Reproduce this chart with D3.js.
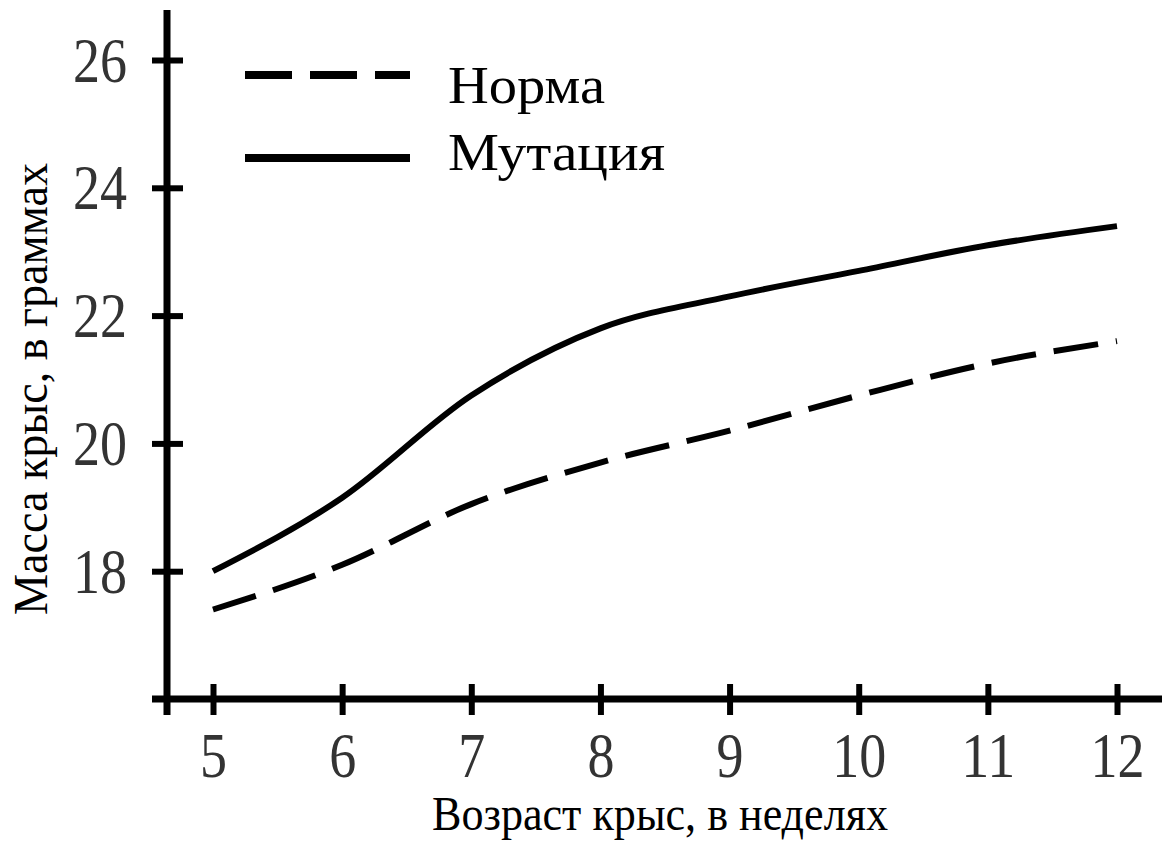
<!DOCTYPE html>
<html>
<head>
<meta charset="utf-8">
<script src="https://cdn.jsdelivr.net/npm/d3@7"></script>
<style>
  html, body { margin: 0; padding: 0; background: #fff; }
  svg { display: block; }
  text { font-family: "Liberation Serif", "Times New Roman", serif; }
</style>
</head>
<body>
<script>
// ---- data ----
const weeks = [5, 6, 7, 8, 9, 10, 11, 12];
const normaValues = [17.4, 18.1, 19.05, 19.7, 20.2, 20.75, 21.25, 21.6];
const mutationValues = [18.0, 19.15, 20.75, 21.8, 22.3, 22.7, 23.1, 23.4];
const yTickValues = [18, 20, 22, 24, 26];
const xTickValues = [5, 6, 7, 8, 9, 10, 11, 12];
const seriesNames = ["Норма", "Мутация"];
const xTitle = "Возраст крыс, в неделях";
const yTitle = "Масса крыс, в граммах";

const W = 1162, H = 843;
const svg = d3.select("body").append("svg").attr("width", W).attr("height", H);

const x = d3.scaleLinear().domain([5, 12]).range([213, 1117]);
const y = d3.scaleLinear().domain([16, 26]).range([699, 60]);

// axis lines
const axisW = 7;
svg.append("line").attr("x1", 167).attr("x2", 167).attr("y1", 10).attr("y2", y(16) + 16)
  .attr("stroke", "#000").attr("stroke-width", axisW);
svg.append("line").attr("x1", 152).attr("x2", W).attr("y1", y(16)).attr("y2", y(16))
  .attr("stroke", "#000").attr("stroke-width", axisW);

const digitW = 27;

// y axis ticks
const yAxis = d3.axisLeft(y).tickValues(yTickValues).tickSize(15).tickPadding(40).tickFormat(d3.format("d"));
const gy = svg.append("g").attr("transform", "translate(167,0)").call(yAxis);
gy.select(".domain").remove();
gy.selectAll(".tick line").attr("x1", 16).attr("x2", -15).attr("stroke", "#000").attr("stroke-width", 6);
gy.selectAll(".tick text").attr("font-size", 64).attr("fill", "#333")
  .attr("x", -40).attr("dy", "0.33em")
  .attr("textLength", d => String(d).length * digitW).attr("lengthAdjust", "spacingAndGlyphs");

// x axis ticks
const xAxis = d3.axisBottom(x).tickValues(xTickValues).tickSize(16).tickPadding(28).tickFormat(d3.format("d"));
const gx = svg.append("g").attr("transform", `translate(0,${y(16)})`).call(xAxis);
gx.select(".domain").remove();
gx.selectAll(".tick line").attr("y1", -15).attr("y2", 16).attr("stroke", "#000").attr("stroke-width", 6);
gx.selectAll(".tick text").attr("font-size", 64).attr("fill", "#333")
  .attr("y", 78).attr("dy", 0)
  .attr("textLength", d => String(d).length * digitW).attr("lengthAdjust", "spacingAndGlyphs");

// lines
const line = d3.line().x((d, i) => x(weeks[i])).y(d => y(d)).curve(d3.curveMonotoneX);
svg.append("path").datum(normaValues).attr("d", line)
  .attr("fill", "none").attr("stroke", "#000").attr("stroke-width", 6)
  .attr("stroke-dasharray", "45,18");
svg.append("path").datum(mutationValues).attr("d", line)
  .attr("fill", "none").attr("stroke", "#000").attr("stroke-width", 6);

// legend
const leg = svg.append("g");
leg.append("line").attr("x1", 245).attr("x2", 410).attr("y1", 75).attr("y2", 75)
  .attr("stroke", "#000").attr("stroke-width", 8).attr("stroke-dasharray", "47,18");
leg.append("line").attr("x1", 245).attr("x2", 410).attr("y1", 158).attr("y2", 158)
  .attr("stroke", "#000").attr("stroke-width", 8);
leg.append("text").attr("x", 448).attr("y", 103).attr("font-size", 52)
  .attr("textLength", 157).attr("lengthAdjust", "spacingAndGlyphs").text(seriesNames[0]);
leg.append("text").attr("x", 448).attr("y", 170).attr("font-size", 52)
  .attr("textLength", 217).attr("lengthAdjust", "spacingAndGlyphs").text(seriesNames[1]);

// titles
svg.append("text").attr("x", 660).attr("y", 830).attr("text-anchor", "middle")
  .attr("font-size", 48).attr("textLength", 456).attr("lengthAdjust", "spacingAndGlyphs").text(xTitle);
svg.append("text").attr("transform", "translate(47,389) rotate(-90)").attr("text-anchor", "middle")
  .attr("font-size", 48).attr("textLength", 452).attr("lengthAdjust", "spacingAndGlyphs").text(yTitle);
</script>
</body>
</html>
